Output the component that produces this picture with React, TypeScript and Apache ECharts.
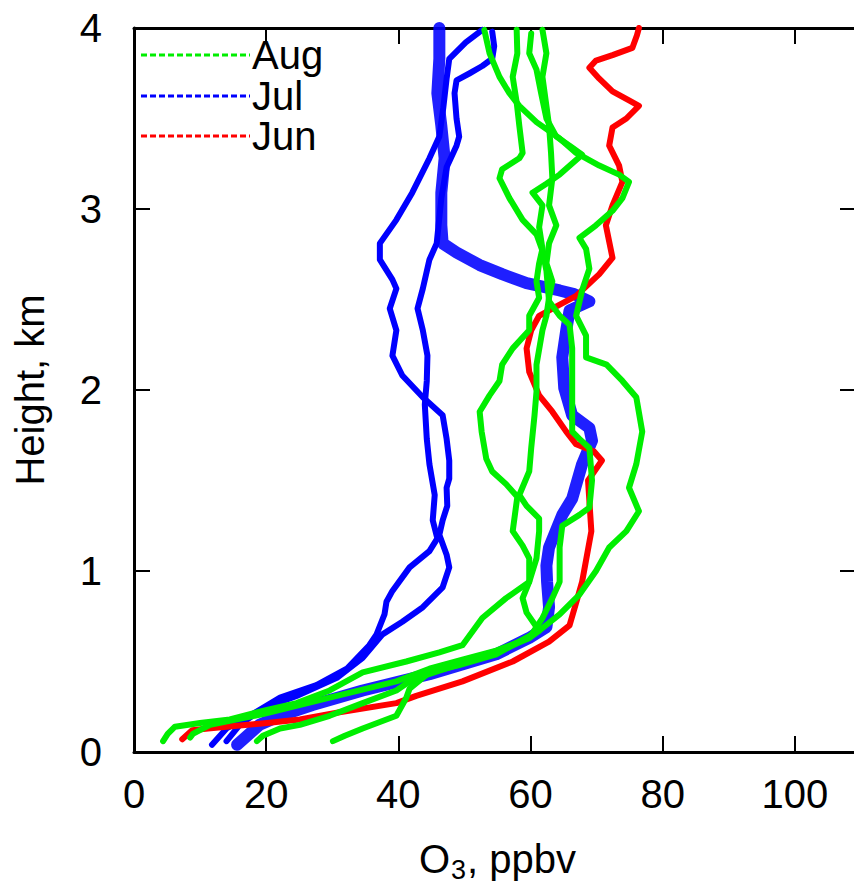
import React, { useEffect, useRef } from "react";
import * as echarts from "echarts";

// Ozone profiles: each point is [O3 mixing ratio (ppbv), height (km)]
const xTickLabels = [0, 20, 40, 60, 80, 100];
const yTickLabels = [0, 1, 2, 3, 4];
const legendMonths = ["Aug", "Jul", "Jun"];

const aug1: [number, number][] = [
  [4.4, 0.06], [5.1, 0.1], [6.2, 0.14], [10.0, 0.16], [14.5, 0.18], [19.8, 0.23], [24.6, 0.27],
  [29.6, 0.34], [34.6, 0.44], [41.2, 0.5], [46.2, 0.55], [49.7, 0.59], [52.7, 0.74], [56.3, 0.85],
  [59.8, 0.94], [60.9, 1.07], [61.3, 1.22], [61.3, 1.29], [59.4, 1.36], [58.3, 1.42], [59.8, 1.55],
  [60.1, 1.68], [60.6, 1.86], [60.9, 1.99], [60.9, 2.14], [61.8, 2.33], [62.4, 2.41], [62.8, 2.51],
  [63.3, 2.6], [62.4, 2.7], [62.8, 2.81], [63.9, 2.91], [62.8, 3.02], [63.3, 3.17], [63.1, 3.31],
  [62.8, 3.46], [62.4, 3.57], [61.8, 3.73], [62.4, 3.86], [61.8, 3.99],
];

const aug2: [number, number][] = [
  [8.5, 0.08], [8.9, 0.1], [11.5, 0.15], [19.5, 0.21], [29.6, 0.3], [39.7, 0.39], [44.7, 0.46],
  [49.7, 0.51], [54.8, 0.56], [59.8, 0.63], [61.8, 0.74], [63.3, 0.85], [64.4, 0.94], [64.4, 1.13],
  [64.8, 1.25], [67.4, 1.31], [68.9, 1.35], [69.3, 1.5], [68.9, 1.68], [67.4, 1.73], [66.3, 1.77],
  [66.3, 1.96], [66.3, 2.05], [66.3, 2.23], [65.9, 2.36], [64.4, 2.41], [62.8, 2.49], [62.4, 2.66],
  [61.8, 2.77], [60.9, 2.86], [58.8, 2.94], [56.8, 3.06], [55.3, 3.17], [55.7, 3.22], [58.3, 3.28],
  [58.8, 3.31], [58.3, 3.46], [57.9, 3.59], [57.3, 3.73], [58.0, 3.86], [57.9, 3.99],
];

const aug3: [number, number][] = [
  [18.6, 0.06], [19.5, 0.09], [22.1, 0.13], [25.1, 0.15], [29.6, 0.2], [34.6, 0.27], [39.7, 0.34],
  [42.1, 0.4], [46.2, 0.45], [49.7, 0.49], [54.8, 0.55], [57.3, 0.59], [59.8, 0.63], [61.3, 0.67],
  [59.4, 0.77], [58.8, 0.85], [59.8, 0.94], [59.8, 1.07], [58.8, 1.14], [57.3, 1.22], [58.0, 1.41],
  [56.3, 1.48], [54.2, 1.55], [53.3, 1.62], [52.6, 1.77], [52.3, 1.88], [53.8, 1.97], [55.3, 2.05],
  [55.7, 2.14], [57.3, 2.23], [59.8, 2.33], [59.8, 2.41], [61.3, 2.51], [60.9, 2.6], [61.3, 2.7],
  [61.8, 2.78], [61.3, 2.9], [61.8, 3.02], [60.3, 3.09], [62.4, 3.14], [64.4, 3.19], [67.8, 3.3],
  [65.9, 3.35], [63.9, 3.4], [62.4, 3.5], [61.6, 3.64], [60.9, 3.77], [59.8, 3.86], [60.1, 3.97],
];

const aug4: [number, number][] = [
  [30.1, 0.06], [31.9, 0.09], [34.6, 0.13], [39.7, 0.2], [41.2, 0.3], [41.7, 0.35], [44.7, 0.44],
  [49.2, 0.48], [54.8, 0.54], [61.3, 0.67], [64.4, 0.76], [67.4, 0.87], [69.9, 1.0], [71.9, 1.13],
  [74.5, 1.22], [76.4, 1.33], [74.9, 1.46], [76.0, 1.59], [76.9, 1.77], [76.0, 1.96], [73.9, 2.05],
  [71.5, 2.14], [68.4, 2.18], [68.4, 2.3], [66.9, 2.41], [67.8, 2.55], [68.9, 2.67], [68.4, 2.78],
  [67.4, 2.84], [69.9, 2.91], [72.4, 2.99], [73.9, 3.06], [74.9, 3.15], [73.4, 3.19], [70.4, 3.24],
  [66.9, 3.31], [64.4, 3.39], [60.9, 3.48], [58.3, 3.57], [56.8, 3.64], [55.3, 3.73], [53.8, 3.86],
  [53.0, 3.99],
];

// July: one densely sampled flight plus two lighter profiles
const julDense: [number, number][] = [
  [15.6, 0.04], [19.0, 0.15], [22.1, 0.2], [27.0, 0.26], [34.6, 0.34], [44.7, 0.43], [54.8, 0.54],
  [59.8, 0.63], [62.4, 0.69], [62.8, 0.8], [62.5, 0.94], [62.4, 1.03], [62.8, 1.13], [64.8, 1.31],
  [66.3, 1.4], [67.8, 1.59], [69.3, 1.72], [68.9, 1.79], [66.3, 1.86], [65.1, 2.01], [64.8, 2.18],
  [65.4, 2.33], [65.9, 2.44], [68.9, 2.49], [66.6, 2.53], [64.4, 2.55], [59.4, 2.59], [55.7, 2.64],
  [52.3, 2.69], [48.8, 2.76], [46.7, 2.81], [46.5, 2.91], [46.5, 3.09], [47.0, 3.28], [46.5, 3.46],
  [45.9, 3.64], [46.2, 3.83], [46.2, 4.0],
];

const julA: [number, number][] = [
  [14.0, 0.06], [16.0, 0.15], [19.5, 0.24], [24.6, 0.31], [30.7, 0.41], [34.6, 0.52], [37.6, 0.65],
  [40.6, 0.72], [43.7, 0.8], [46.7, 0.91], [47.7, 1.02], [47.3, 1.09], [46.2, 1.2], [46.7, 1.28],
  [47.4, 1.36], [47.3, 1.46], [47.7, 1.51], [47.7, 1.61], [47.3, 1.73], [46.7, 1.86], [43.7, 1.96],
  [40.6, 2.08], [39.1, 2.19], [39.7, 2.33], [38.7, 2.45], [39.7, 2.56], [39.1, 2.61], [37.2, 2.72],
  [37.2, 2.81], [39.7, 2.94], [42.1, 3.09], [44.7, 3.28], [46.2, 3.4], [46.8, 3.56], [47.3, 3.72],
  [47.7, 3.83], [50.2, 3.92], [52.7, 3.99],
];

const julB: [number, number][] = [
  [11.8, 0.04], [14.0, 0.13], [17.5, 0.2], [22.1, 0.3], [27.6, 0.37], [32.2, 0.46], [35.6, 0.59],
  [36.7, 0.65], [37.9, 0.76], [38.2, 0.83], [39.1, 0.89], [41.7, 1.02], [44.7, 1.11], [45.9, 1.18],
  [45.2, 1.28], [45.5, 1.42], [44.7, 1.59], [44.3, 1.73], [44.0, 1.92], [44.3, 2.05], [44.4, 2.19],
  [43.7, 2.33], [42.9, 2.45], [43.7, 2.56], [44.7, 2.72], [45.8, 2.81], [46.5, 3.06], [47.3, 3.23],
  [48.8, 3.35], [49.2, 3.4], [48.8, 3.5], [48.5, 3.64], [48.8, 3.71], [50.8, 3.75], [52.7, 3.79],
  [54.2, 3.83], [54.5, 3.9], [54.2, 3.98],
];

const jun1: [number, number][] = [
  [7.3, 0.07], [8.8, 0.12], [11.2, 0.13], [14.0, 0.14], [20.1, 0.16], [25.1, 0.18], [31.1, 0.22],
  [39.7, 0.27], [42.7, 0.31], [49.7, 0.39], [57.3, 0.5], [62.8, 0.61], [65.9, 0.7], [67.1, 0.85],
  [67.8, 0.94], [69.2, 1.22], [68.7, 1.5], [70.8, 1.61], [69.6, 1.66], [66.9, 1.7], [65.4, 1.77],
  [63.3, 1.88], [61.3, 1.97], [59.8, 2.1], [59.4, 2.23], [60.1, 2.33], [61.3, 2.41], [63.3, 2.45],
  [66.9, 2.52], [70.4, 2.64], [72.4, 2.73], [71.4, 2.91], [72.4, 3.02], [73.9, 3.15], [73.4, 3.24],
  [71.9, 3.35], [72.4, 3.45], [74.5, 3.5], [76.4, 3.57], [74.9, 3.6], [72.4, 3.65], [70.4, 3.72],
  [68.9, 3.78], [69.9, 3.82], [72.4, 3.85], [75.4, 3.89], [76.1, 3.96], [76.4, 4.0],
];

const COLORS: Record<string, string> = { Aug: "#00ee00", Jul: "#0000ff", Jun: "#ff0000" };
const FONT = "'Liberation Sans', Arial, Helvetica, sans-serif";

function profile(name: string, data: [number, number][], width: number, z: number, opacity = 1) {
  return {
    type: "line",
    name,
    data,
    symbol: "none",
    showSymbol: false,
    silent: true,
    z,
    lineStyle: { color: COLORS[name], width, cap: "round", join: "round", opacity },
    itemStyle: { color: COLORS[name] },
  };
}

function legendGraphics() {
  const rowsY = [55, 96, 136];
  const els: any[] = [];
  legendMonths.forEach((m, i) => {
    els.push({
      type: "line",
      shape: { x1: 141, y1: rowsY[i], x2: 250, y2: rowsY[i] },
      style: { stroke: COLORS[m], lineWidth: 3, lineDash: [6, 3] },
      z: 100,
    });
    els.push({
      type: "text",
      x: 252,
      y: rowsY[i],
      style: { text: m, fontSize: 40, fontFamily: FONT, fill: "#000", verticalAlign: "middle", align: "left" },
      z: 100,
    });
  });
  return els;
}

export default function App() {
  const ref = useRef<HTMLDivElement>(null);

  useEffect(() => {
    if (!ref.current) return;
    const chart = echarts.init(ref.current, undefined, { renderer: "svg" });
    const axisLine = { show: true, onZero: false, lineStyle: { color: "#000", width: 3 } };
    const tick = (len: number) => ({ show: true, inside: true, length: len, lineStyle: { color: "#000", width: 2 } });
    chart.setOption({
      animation: false,
      backgroundColor: "#fff",
      grid: { left: 134, right: 9, top: 28, bottom: 134, containLabel: false },
      xAxis: [
        {
          type: "value",
          position: "bottom",
          min: 0,
          max: 110,
          interval: 20,
          axisLine,
          axisTick: tick(16),
          splitLine: { show: false },
          axisLabel: {
            fontSize: 40,
            fontFamily: FONT,
            color: "#000",
            margin: 22,
            showMaxLabel: false,
            formatter: (v: number) => (xTickLabels.includes(v) ? String(v) : ""),
          },
          name: "{a|O}{b|3}{a|, ppbv}",
          nameLocation: "middle",
          nameGap: 82,
          nameTextStyle: {
            color: "#000",
            fontFamily: FONT,
            verticalAlign: "top",
            rich: {
              a: { fontSize: 40, fontFamily: FONT, color: "#000" },
              b: { fontSize: 27, fontFamily: FONT, color: "#000", padding: [22, 1, 0, 1] },
            },
          },
        },
        {
          type: "value",
          position: "top",
          min: 0,
          max: 110,
          interval: 20,
          axisLine,
          axisTick: tick(16),
          axisLabel: { show: false },
          splitLine: { show: false },
        },
      ],
      yAxis: [
        {
          type: "value",
          position: "left",
          min: 0,
          max: 4,
          interval: 1,
          axisLine,
          axisTick: tick(16),
          splitLine: { show: false },
          axisLabel: {
            fontSize: 40,
            fontFamily: FONT,
            color: "#000",
            margin: 32,
            formatter: (v: number) => (yTickLabels.includes(v) ? String(v) : ""),
          },
          name: "Height, km",
          nameLocation: "middle",
          nameGap: 84,
          nameTextStyle: { fontSize: 40, fontFamily: FONT, color: "#000" },
        },
        {
          type: "value",
          position: "right",
          min: 0,
          max: 4,
          interval: 1,
          axisLine,
          axisTick: tick(21),
          axisLabel: { show: false },
          splitLine: { show: false },
        },
      ],
      series: [
        profile("Jul", julDense, 12, 2, 0.88),
        profile("Jul", julA, 6, 3),
        profile("Jul", julB, 6, 3),
        profile("Jun", jun1, 6, 4),
        profile("Aug", aug1, 6, 5),
        profile("Aug", aug2, 6, 5),
        profile("Aug", aug3, 6, 5),
        profile("Aug", aug4, 6, 5),
      ],
      graphic: legendGraphics(),
    });
    return () => chart.dispose();
  }, []);

  return (
    <div
      style={{
        position: "fixed",
        left: 0,
        top: 0,
        width: 854,
        height: 888,
        overflow: "hidden",
        background: "#fff",
      }}
    >
      <div ref={ref} style={{ width: 870, height: 888 }} />
    </div>
  );
}
